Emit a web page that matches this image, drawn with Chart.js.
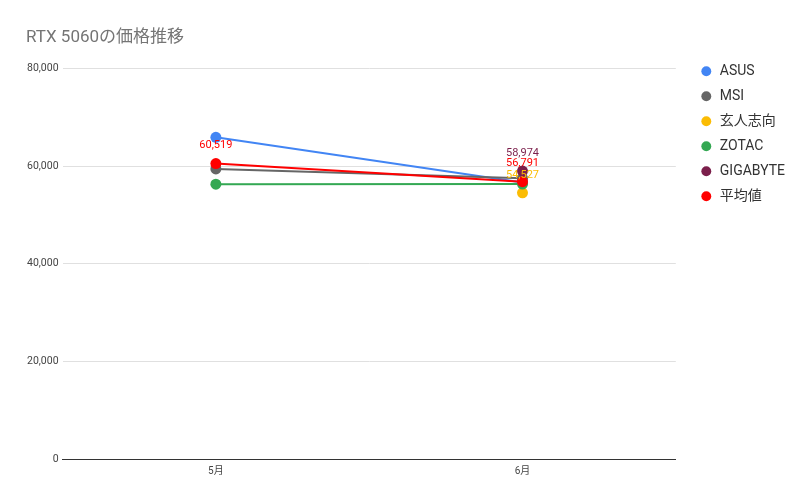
<!DOCTYPE html>
<html>
<head>
<meta charset="utf-8">
<script src="https://cdn.jsdelivr.net/npm/chart.js@4"></script>
<style>
	body { margin: 0; background: #fff; }
	#wrap { width: 812px; height: 502px; }
</style>
</head>
<body>
<div id="wrap"><canvas id="price-canvas"></canvas></div>
<script>
const months = ["5月", "6月"];
const asus = [65880, 56654];
const msi = [59400, 57500];
const kuroutoshikou = [null, 54527];
const zotac = [56277, 56300];
const gigabyte = [null, 58974];
const average = [60519, 56791];
const yTicks = [0, 20000, 40000, 60000, 80000];

const fmt = (v) => v.toLocaleString("en-US");

// draws the value above each point for series marked showLabels
const valueLabels = {
	id: "valueLabels",
	afterDatasetsDraw(chart) {
		const ctx = chart.ctx;
		chart.data.datasets.forEach((ds, i) => {
			if (!ds.showLabels) return;
			const meta = chart.getDatasetMeta(i);
			meta.data.forEach((pt, j) => {
				if (ds.data[j] == null) return;
				ctx.save();
				ctx.font = "11px Roboto";
				ctx.fillStyle = ds.borderColor;
				ctx.textAlign = "center";
				ctx.textBaseline = "middle";
				ctx.fillText(fmt(ds.data[j]), pt.x, pt.y - 18);
				ctx.restore();
			});
		});
	},
};

// nudge legend and title a little to the right of where layout puts them
const nudge = {
	id: "nudge",
	afterLayout(chart) {
		chart.legend.left += 13;
		chart.legend.right += 13;
		chart.titleBlock.left += 3;
		chart.titleBlock.right += 3;
	},
};

// later series sit on top, like the original
function series(label, data, color, showLabels, order) {
	return {
		label: label,
		data: data,
		borderColor: color,
		backgroundColor: color,
		pointRadius: 5.5,
		pointHoverRadius: 5.5,
		pointBorderWidth: 0,
		borderWidth: 2,
		showLabels: showLabels,
		order: order,
	};
}

const priceCanvas = document.getElementById("price-canvas").getContext("2d");

const priceChart = new Chart(priceCanvas, {
	type: "line",
	data: {
		labels: months,
		datasets: [
			series("ASUS", asus, "#4285f4", false, 5),
			series("MSI", msi, "#666666", false, 4),
			series("玄人志向", kuroutoshikou, "#fbbc04", true, 3),
			series("ZOTAC", zotac, "#34a853", false, 2),
			series("GIGABYTE", gigabyte, "#7b1f4b", true, 1),
			series("平均値", average, "#ff0000", true, 0),
		],
	},
	options: {
		responsive: true,
		maintainAspectRatio: false,
		animation: false,
		layout: {
			padding: { left: 23, right: 30, top: 28, bottom: 19 },
		},
		plugins: {
			title: {
				display: true,
				text: "RTX 5060の価格推移",
				align: "start",
				color: "#757575",
				font: { family: "Roboto, 'Noto Sans CJK JP'", size: 17, weight: "normal" },
				padding: { top: 0, bottom: 20 },
			},
			legend: {
				position: "right",
				align: "start",
				title: {
					display: true,
					text: " ",
					font: { size: 1 },
					padding: { top: 0, bottom: 24 },
				},
				labels: {
					usePointStyle: true,
					pointStyle: "circle",
					boxWidth: 13,
					boxHeight: 7,
					padding: 11,
					color: "#333333",
					font: { family: "Roboto, 'Noto Sans CJK JP'", size: 14 },
					sort: (a, b) => a.datasetIndex - b.datasetIndex,
				},
			},
			tooltip: { enabled: false },
		},
		scales: {
			x: {
				offset: true,
				grid: { display: false, drawTicks: false },
				border: { display: true, color: "#333333", width: 1 },
				ticks: {
					color: "#444444",
					font: { family: "Roboto, 'Noto Sans CJK JP'", size: 10 },
					padding: 6,
				},
			},
			y: {
				min: 0,
				max: 80000,
				afterBuildTicks: (axis) => {
					axis.ticks = yTicks.map((v) => ({ value: v }));
				},
				grid: { color: "#e0e0e0", drawTicks: false },
				border: { display: false },
				ticks: {
					color: "#444444",
					font: { family: "Roboto", size: 10.5 },
					padding: 4,
					callback: (v) => fmt(v),
				},
			},
		},
	},
	plugins: [valueLabels, nudge],
});
</script>
</body>
</html>
